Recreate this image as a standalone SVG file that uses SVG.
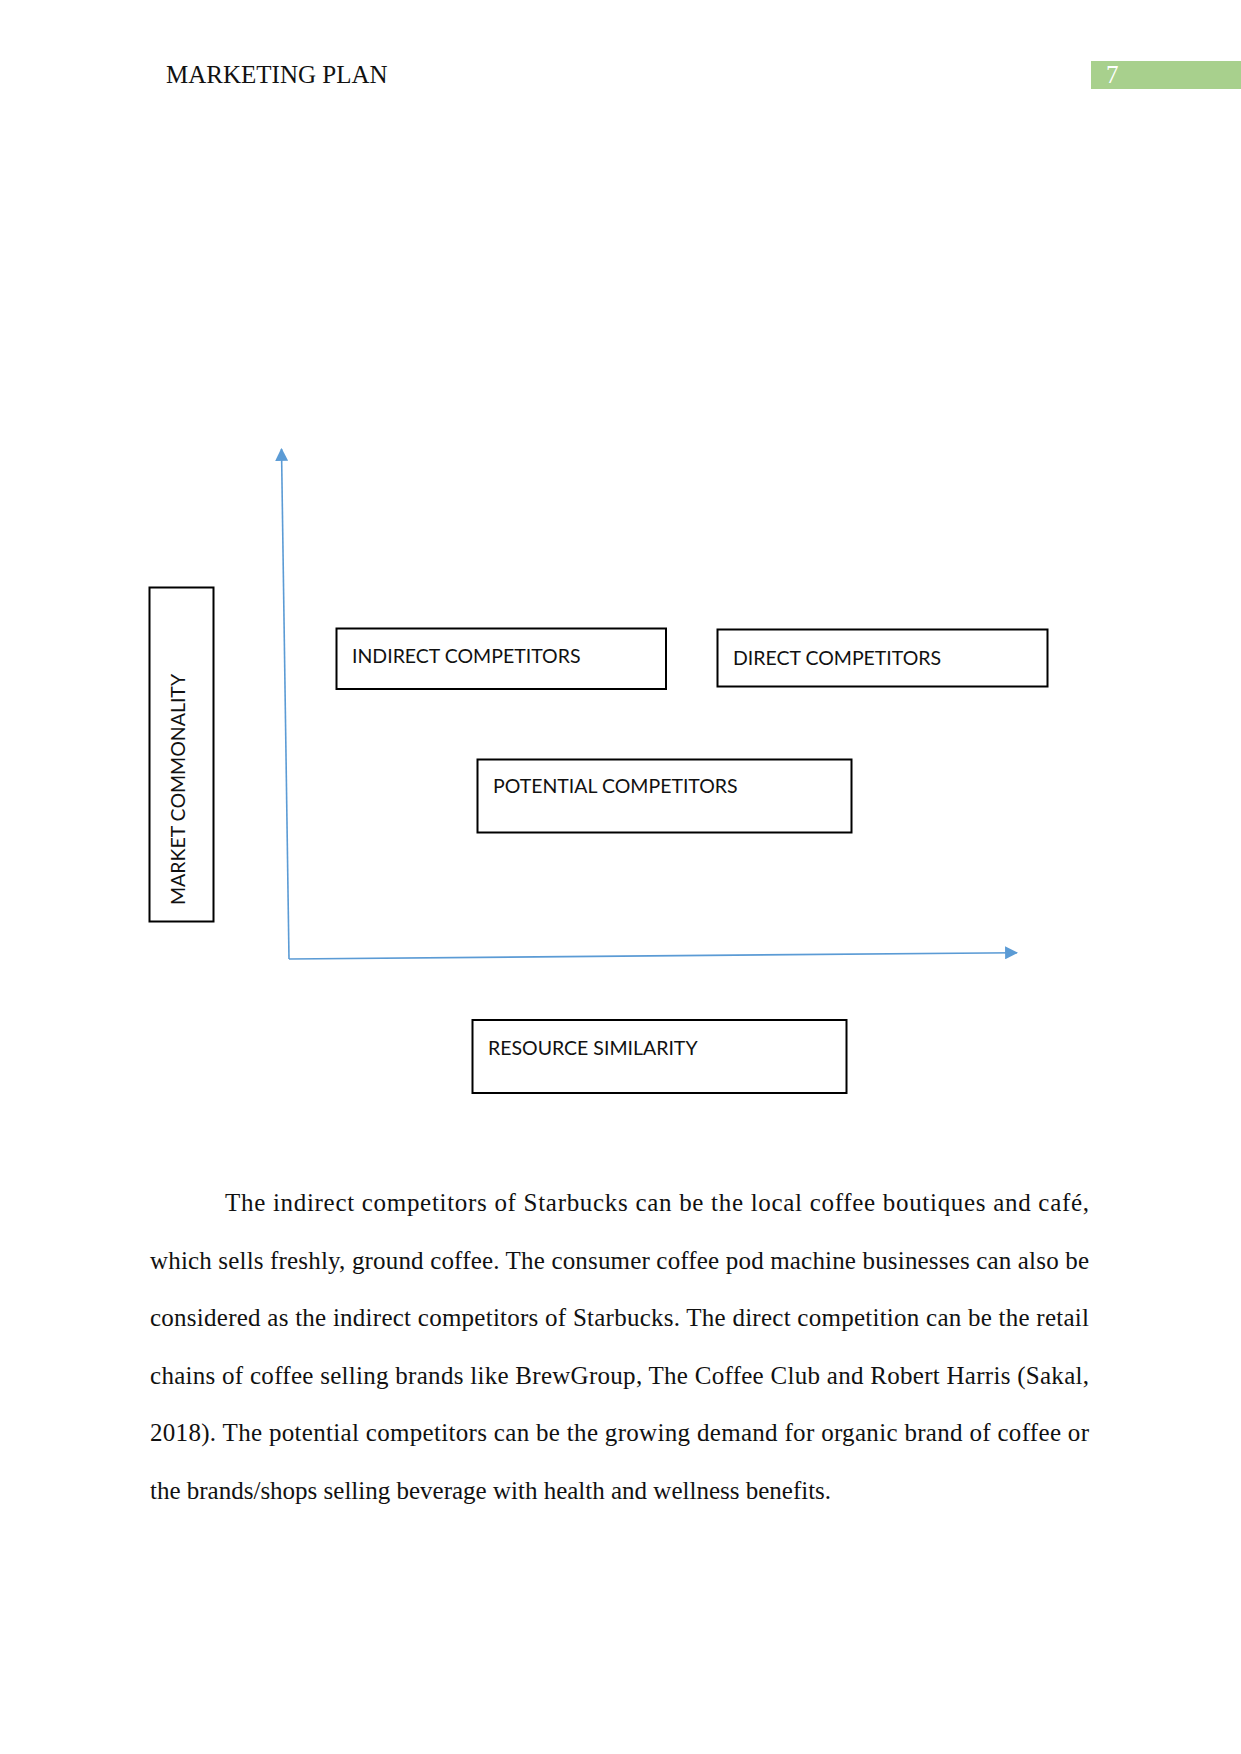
<svg xmlns="http://www.w3.org/2000/svg" width="1241" height="1754" viewBox="0 0 1241 1754">
<style>
.box{fill:#fff;stroke:#000;stroke-width:2}
.lbl{font-family:Lato,"Liberation Sans",sans-serif;font-size:19.5px;fill:#111}
.hdr{font-family:"Liberation Serif",serif;font-size:25px}
.para{font-family:"Liberation Serif",serif;font-size:25px;fill:#111}
.axis{stroke:#5B9BD5;stroke-width:1.6;fill:none}
</style>
<defs>
<marker id="arr" viewBox="0 0 12 12" refX="11" refY="6" markerWidth="13" markerHeight="13" markerUnits="userSpaceOnUse" orient="auto">
<path d="M0,0 L12,6 L0,12 Z" fill="#5B9BD5"/>
</marker>
</defs>
<rect width="1241" height="1754" fill="#fff"/>
<g id="header">
<text class="hdr" x="166" y="83" fill="#111">MARKETING PLAN</text>
<rect x="1091" y="61" width="150" height="28" fill="#A8D08D"/>
<text class="hdr" x="1106" y="83" fill="#fff">7</text>
</g>
<g id="connectors">
<line class="axis" x1="289" y1="959" x2="281.5" y2="449" marker-end="url(#arr)"/>
<line class="axis" x1="289" y1="959" x2="1017" y2="952.7" marker-end="url(#arr)"/>
</g>
<g id="market-commonality">
<rect class="box" x="149.5" y="587.5" width="64" height="334"/>
<text class="lbl" transform="translate(185,905) rotate(-90)" x="0" y="0">MARKET COMMONALITY</text>
</g>
<g id="indirect">
<rect class="box" x="336.5" y="628.5" width="329.5" height="60.5"/>
<text class="lbl" x="352" y="663">INDIRECT COMPETITORS</text>
</g>
<g id="direct">
<rect class="box" x="717.5" y="629.5" width="330" height="57"/>
<text class="lbl" x="733" y="665">DIRECT COMPETITORS</text>
</g>
<g id="potential">
<rect class="box" x="477.5" y="759.5" width="374" height="73"/>
<text class="lbl" x="493" y="793">POTENTIAL COMPETITORS</text>
</g>
<g id="resource">
<rect class="box" x="472.5" y="1020" width="374" height="73"/>
<text class="lbl" x="488" y="1055">RESOURCE SIMILARITY</text>
</g>
<g id="paragraph">
<text class="para" x="225" y="1211" textLength="864" lengthAdjust="spacing">The indirect competitors of Starbucks can be the local coffee boutiques and café,</text>
<text class="para" x="150" y="1268.6" textLength="939" lengthAdjust="spacing">which sells freshly, ground coffee. The consumer coffee pod machine businesses can also be</text>
<text class="para" x="150" y="1326.2" textLength="939" lengthAdjust="spacing">considered as the indirect competitors of Starbucks. The direct competition can be the retail</text>
<text class="para" x="150" y="1383.8" textLength="939" lengthAdjust="spacing">chains of coffee selling brands like BrewGroup, The Coffee Club and Robert Harris (Sakal,</text>
<text class="para" x="150" y="1441.4" textLength="939" lengthAdjust="spacing">2018). The potential competitors can be the growing demand for organic brand of coffee or</text>
<text class="para" x="150" y="1499">the brands/shops selling beverage with health and wellness benefits.</text>
</g>
</svg>
